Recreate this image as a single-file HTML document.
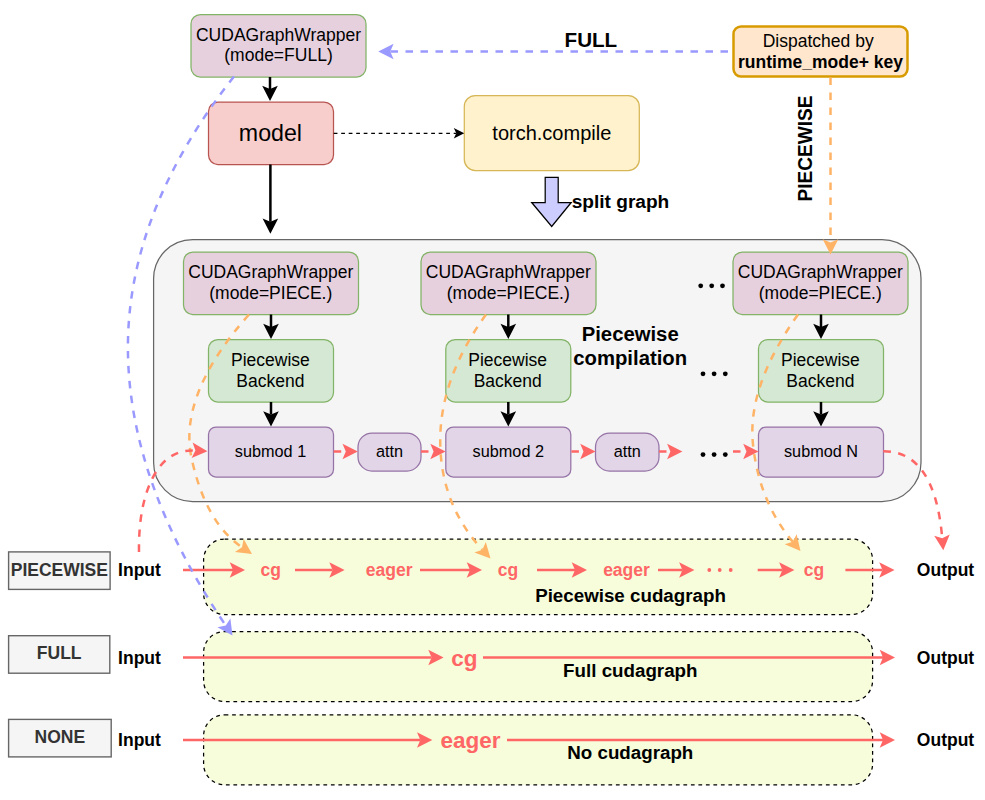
<!DOCTYPE html>
<html><head><meta charset="utf-8"><style>
html,body{margin:0;padding:0;background:#fff;}
svg{display:block;font-family:"Liberation Sans", sans-serif;}
</style></head><body>
<svg width="985" height="800" viewBox="0 0 985 800">
<rect width="985" height="800" fill="#fff"/>
<rect x="153.6" y="239.6" width="767.4" height="262" rx="39" ry="39" fill="#f5f5f5" stroke="#666666" stroke-width="1.25"/>
<rect x="191" y="14.5" width="175" height="62.5" rx="9.4" ry="9.4" fill="#e6d0de" stroke="#82b366" stroke-width="1.25"/>
<text x="278.5" y="40.8" font-size="17.5" font-weight="normal" fill="#000" text-anchor="middle">CUDAGraphWrapper</text>
<text x="278.5" y="61.4" font-size="17.5" font-weight="normal" fill="#000" text-anchor="middle">(mode=FULL)</text>
<rect x="208.5" y="102" width="125" height="62.5" rx="9.4" ry="9.4" fill="#f8cecc" stroke="#b85450" stroke-width="1.25"/>
<text x="270.4" y="141" font-size="23.2" font-weight="normal" fill="#000" text-anchor="middle">model</text>
<rect x="464.3" y="95.5" width="175" height="75" rx="11" ry="11" fill="#fff2cc" stroke="#d6b656" stroke-width="1.25"/>
<text x="551.8" y="140" font-size="20" font-weight="normal" fill="#000" text-anchor="middle">torch.compile</text>
<rect x="733.5" y="26.5" width="174" height="50" rx="7.5" ry="7.5" fill="#ffe6cc" stroke="#d79b00" stroke-width="2.5"/>
<text x="818.2" y="47" font-size="17.5" font-weight="normal" fill="#000" text-anchor="middle">Dispatched by</text>
<text x="820.5" y="68" font-size="17.5" font-weight="bold" fill="#000" text-anchor="middle">runtime_mode+ key</text>
<path d="M545.2,177.3 L558.2,177.3 L558.2,202.5 L571.2,202.5 L551.7,226.5 L531.7,202.5 L545.2,202.5 Z" fill="#ccccff" stroke="#000" stroke-width="1.25"/>
<text x="571.7" y="207.5" font-size="19.1" font-weight="bold" fill="#000" text-anchor="start">split graph</text>
<text x="590.9" y="47" font-size="20.6" font-weight="bold" fill="#000" text-anchor="middle">FULL</text>
<text x="0" y="0" font-size="19.1" font-weight="bold" text-anchor="middle" transform="translate(812.2,148.5) rotate(-90) scale(1,1.06)">PIECEWISE</text>
<rect x="183.5" y="252" width="175" height="62.5" rx="9.4" ry="9.4" fill="#e6d0de" stroke="#82b366" stroke-width="1.25"/>
<text x="270.8" y="277.6" font-size="17.5" font-weight="normal" fill="#000" text-anchor="middle">CUDAGraphWrapper</text>
<text x="270.8" y="298.5" font-size="17.5" font-weight="normal" fill="#000" text-anchor="middle">(mode=PIECE.)</text>
<rect x="208.5" y="339.5" width="125" height="62.5" rx="9.4" ry="9.4" fill="#d5e8d4" stroke="#82b366" stroke-width="1.25"/>
<text x="270.4" y="366" font-size="17.5" font-weight="normal" fill="#000" text-anchor="middle">Piecewise</text>
<text x="270.4" y="386.5" font-size="17.5" font-weight="normal" fill="#000" text-anchor="middle">Backend</text>
<rect x="208.5" y="427" width="125" height="50" rx="7.5" ry="7.5" fill="#e1d5e7" stroke="#9673a6" stroke-width="1.25"/>
<line x1="271.0" y1="314.5" x2="271.00" y2="327.00" stroke="#000" stroke-width="2.5"/>
<path d="M271.00,339.00 L263.20,323.70 L271.00,327.00 L278.80,323.70 Z" fill="#000"/>
<line x1="271.0" y1="402" x2="271.00" y2="414.50" stroke="#000" stroke-width="2.5"/>
<path d="M271.00,426.50 L263.20,411.20 L271.00,414.50 L278.80,411.20 Z" fill="#000"/>
<rect x="421" y="252" width="175" height="62.5" rx="9.4" ry="9.4" fill="#e6d0de" stroke="#82b366" stroke-width="1.25"/>
<text x="508.3" y="277.6" font-size="17.5" font-weight="normal" fill="#000" text-anchor="middle">CUDAGraphWrapper</text>
<text x="508.3" y="298.5" font-size="17.5" font-weight="normal" fill="#000" text-anchor="middle">(mode=PIECE.)</text>
<rect x="445.8" y="339.5" width="125" height="62.5" rx="9.4" ry="9.4" fill="#d5e8d4" stroke="#82b366" stroke-width="1.25"/>
<text x="507.7" y="366" font-size="17.5" font-weight="normal" fill="#000" text-anchor="middle">Piecewise</text>
<text x="507.7" y="386.5" font-size="17.5" font-weight="normal" fill="#000" text-anchor="middle">Backend</text>
<rect x="445.8" y="427" width="125" height="50" rx="7.5" ry="7.5" fill="#e1d5e7" stroke="#9673a6" stroke-width="1.25"/>
<line x1="508.3" y1="314.5" x2="508.30" y2="327.00" stroke="#000" stroke-width="2.5"/>
<path d="M508.30,339.00 L500.50,323.70 L508.30,327.00 L516.10,323.70 Z" fill="#000"/>
<line x1="508.3" y1="402" x2="508.30" y2="414.50" stroke="#000" stroke-width="2.5"/>
<path d="M508.30,426.50 L500.50,411.20 L508.30,414.50 L516.10,411.20 Z" fill="#000"/>
<rect x="733" y="252" width="175" height="62.5" rx="9.4" ry="9.4" fill="#e6d0de" stroke="#82b366" stroke-width="1.25"/>
<text x="820.3" y="277.6" font-size="17.5" font-weight="normal" fill="#000" text-anchor="middle">CUDAGraphWrapper</text>
<text x="820.3" y="298.5" font-size="17.5" font-weight="normal" fill="#000" text-anchor="middle">(mode=PIECE.)</text>
<rect x="758.5" y="339.5" width="125" height="62.5" rx="9.4" ry="9.4" fill="#d5e8d4" stroke="#82b366" stroke-width="1.25"/>
<text x="820.4" y="366" font-size="17.5" font-weight="normal" fill="#000" text-anchor="middle">Piecewise</text>
<text x="820.4" y="386.5" font-size="17.5" font-weight="normal" fill="#000" text-anchor="middle">Backend</text>
<rect x="758.5" y="427" width="125" height="50" rx="7.5" ry="7.5" fill="#e1d5e7" stroke="#9673a6" stroke-width="1.25"/>
<line x1="821.0" y1="314.5" x2="821.00" y2="327.00" stroke="#000" stroke-width="2.5"/>
<path d="M821.00,339.00 L813.20,323.70 L821.00,327.00 L828.80,323.70 Z" fill="#000"/>
<line x1="821.0" y1="402" x2="821.00" y2="414.50" stroke="#000" stroke-width="2.5"/>
<path d="M821.00,426.50 L813.20,411.20 L821.00,414.50 L828.80,411.20 Z" fill="#000"/>
<text x="270.5" y="457" font-size="16.25" font-weight="normal" fill="#000" text-anchor="middle">submod 1</text>
<text x="508.3" y="457" font-size="16.25" font-weight="normal" fill="#000" text-anchor="middle">submod 2</text>
<text x="821" y="457" font-size="16.25" font-weight="normal" fill="#000" text-anchor="middle">submod N</text>
<rect x="358" y="433" width="63" height="38" rx="14" ry="14" fill="#e1d5e7" stroke="#9673a6" stroke-width="1.25"/>
<text x="389.5" y="457" font-size="16.25" font-weight="normal" fill="#000" text-anchor="middle">attn</text>
<rect x="595.5" y="433" width="63.5" height="38" rx="14" ry="14" fill="#e1d5e7" stroke="#9673a6" stroke-width="1.25"/>
<text x="627.2" y="457" font-size="16.25" font-weight="normal" fill="#000" text-anchor="middle">attn</text>
<text x="630.2" y="341" font-size="20.3" font-weight="bold" fill="#000" text-anchor="middle">Piecewise</text>
<text x="630.2" y="365" font-size="20.3" font-weight="bold" fill="#000" text-anchor="middle">compilation</text>
<circle cx="700.7" cy="285.8" r="2.4" fill="#000"/>
<circle cx="711.7" cy="285.8" r="2.4" fill="#000"/>
<circle cx="722.5" cy="285.8" r="2.4" fill="#000"/>
<circle cx="703" cy="373.8" r="2.4" fill="#000"/>
<circle cx="714.1" cy="373.8" r="2.4" fill="#000"/>
<circle cx="725.3" cy="373.8" r="2.4" fill="#000"/>
<circle cx="703" cy="454.6" r="2.4" fill="#000"/>
<circle cx="714.1" cy="454.6" r="2.4" fill="#000"/>
<circle cx="725.3" cy="454.6" r="2.4" fill="#000"/>
<line x1="333.7" y1="451.5" x2="345.80" y2="451.50" stroke="#ff6666" stroke-width="2.5" stroke-dasharray="7.5 7.5" stroke-dashoffset="0"/>
<path d="M357.80,451.50 L342.50,459.30 L345.80,451.50 L342.50,443.70 Z" fill="#ff6666"/>
<line x1="421" y1="451.5" x2="433.60" y2="451.50" stroke="#ff6666" stroke-width="2.5" stroke-dasharray="7.5 7.5" stroke-dashoffset="0"/>
<path d="M445.60,451.50 L430.30,459.30 L433.60,451.50 L430.30,443.70 Z" fill="#ff6666"/>
<line x1="571.4" y1="451.5" x2="583.50" y2="451.50" stroke="#ff6666" stroke-width="2.5" stroke-dasharray="7.5 7.5" stroke-dashoffset="0"/>
<path d="M595.50,451.50 L580.20,459.30 L583.50,451.50 L580.20,443.70 Z" fill="#ff6666"/>
<line x1="659" y1="451.5" x2="670.40" y2="451.50" stroke="#ff6666" stroke-width="2.5" stroke-dasharray="7.5 7.5" stroke-dashoffset="0"/>
<path d="M682.40,451.50 L667.10,459.30 L670.40,451.50 L667.10,443.70 Z" fill="#ff6666"/>
<line x1="733" y1="451.5" x2="746.50" y2="451.50" stroke="#ff6666" stroke-width="2.5" stroke-dasharray="7.5 7.5" stroke-dashoffset="0"/>
<path d="M758.50,451.50 L743.20,459.30 L746.50,451.50 L743.20,443.70 Z" fill="#ff6666"/>
<line x1="270" y1="77" x2="270.00" y2="89.00" stroke="#000" stroke-width="2.5"/>
<path d="M270.00,101.00 L262.20,85.70 L270.00,89.00 L277.80,85.70 Z" fill="#000"/>
<line x1="270.4" y1="164.5" x2="270.40" y2="221.80" stroke="#000" stroke-width="2.5"/>
<path d="M270.40,233.80 L262.60,218.50 L270.40,221.80 L278.20,218.50 Z" fill="#000"/>
<line x1="333.7" y1="133.3" x2="456.30" y2="133.30" stroke="#000" stroke-width="1.25" stroke-dasharray="3.75 3.75" stroke-dashoffset="0"/>
<path d="M464.30,133.30 L453.80,138.60 L456.30,133.30 L453.80,128.00 Z" fill="#000"/>
<rect x="203.6" y="539" width="669" height="75.5" rx="21" ry="21" fill="#f7fddb" stroke="#000" stroke-width="1.25" stroke-dasharray="3.75 3.75"/>
<rect x="203.6" y="631.5" width="669" height="70" rx="21" ry="21" fill="#f7fddb" stroke="#000" stroke-width="1.25" stroke-dasharray="3.75 3.75"/>
<rect x="203.6" y="714.8" width="669" height="70" rx="21" ry="21" fill="#f7fddb" stroke="#000" stroke-width="1.25" stroke-dasharray="3.75 3.75"/>
<rect x="8.6" y="551.9" width="101.5" height="37.5" rx="0" ry="0" fill="#f5f5f5" stroke="#666666" stroke-width="1.4"/>
<text x="59.35" y="575.5" font-size="17.5" font-weight="bold" fill="#333333" text-anchor="middle">PIECEWISE</text>
<rect x="8.6" y="635.7" width="101.2" height="37.5" rx="0" ry="0" fill="#f5f5f5" stroke="#666666" stroke-width="1.4"/>
<text x="59.2" y="659.3000000000001" font-size="17.5" font-weight="bold" fill="#333333" text-anchor="middle">FULL</text>
<rect x="8.6" y="719.4" width="102.6" height="37.5" rx="0" ry="0" fill="#f5f5f5" stroke="#666666" stroke-width="1.4"/>
<text x="59.9" y="743.0" font-size="17.5" font-weight="bold" fill="#333333" text-anchor="middle">NONE</text>
<text x="139.5" y="575.6" font-size="17.5" font-weight="bold" fill="#000" text-anchor="middle">Input</text>
<text x="945.5" y="575.8" font-size="17.5" font-weight="bold" fill="#000" text-anchor="middle">Output</text>
<text x="139.5" y="664.1" font-size="17.5" font-weight="bold" fill="#000" text-anchor="middle">Input</text>
<text x="945.5" y="664.3" font-size="17.5" font-weight="bold" fill="#000" text-anchor="middle">Output</text>
<text x="139.5" y="745.6" font-size="17.5" font-weight="bold" fill="#000" text-anchor="middle">Input</text>
<text x="945.5" y="745.8" font-size="17.5" font-weight="bold" fill="#000" text-anchor="middle">Output</text>
<line x1="183" y1="570" x2="233.00" y2="570.00" stroke="#ff6666" stroke-width="2.5"/>
<path d="M245.00,570.00 L229.70,577.80 L233.00,570.00 L229.70,562.20 Z" fill="#ff6666"/>
<line x1="295" y1="570" x2="332.60" y2="570.00" stroke="#ff6666" stroke-width="2.5"/>
<path d="M344.60,570.00 L329.30,577.80 L332.60,570.00 L329.30,562.20 Z" fill="#ff6666"/>
<line x1="420" y1="570" x2="470.00" y2="570.00" stroke="#ff6666" stroke-width="2.5"/>
<path d="M482.00,570.00 L466.70,577.80 L470.00,570.00 L466.70,562.20 Z" fill="#ff6666"/>
<line x1="537" y1="570" x2="575.00" y2="570.00" stroke="#ff6666" stroke-width="2.5"/>
<path d="M587.00,570.00 L571.70,577.80 L575.00,570.00 L571.70,562.20 Z" fill="#ff6666"/>
<line x1="658" y1="570" x2="682.40" y2="570.00" stroke="#ff6666" stroke-width="2.5"/>
<path d="M694.40,570.00 L679.10,577.80 L682.40,570.00 L679.10,562.20 Z" fill="#ff6666"/>
<line x1="757.7" y1="570" x2="782.40" y2="570.00" stroke="#ff6666" stroke-width="2.5"/>
<path d="M794.40,570.00 L779.10,577.80 L782.40,570.00 L779.10,562.20 Z" fill="#ff6666"/>
<line x1="845.4" y1="570" x2="882.50" y2="570.00" stroke="#ff6666" stroke-width="2.5"/>
<path d="M894.50,570.00 L879.20,577.80 L882.50,570.00 L879.20,562.20 Z" fill="#ff6666"/>
<text x="270.7" y="576" font-size="17.5" font-weight="bold" fill="#ff6666" text-anchor="middle">cg</text>
<text x="389.2" y="576" font-size="17.5" font-weight="bold" fill="#ff6666" text-anchor="middle">eager</text>
<text x="507.9" y="576" font-size="17.5" font-weight="bold" fill="#ff6666" text-anchor="middle">cg</text>
<text x="626.5" y="576" font-size="17.5" font-weight="bold" fill="#ff6666" text-anchor="middle">eager</text>
<text x="814" y="576" font-size="17.5" font-weight="bold" fill="#ff6666" text-anchor="middle">cg</text>
<circle cx="709.3" cy="570" r="1.9" fill="#ff6666"/>
<circle cx="719.7" cy="570" r="1.9" fill="#ff6666"/>
<circle cx="730.7" cy="570" r="1.9" fill="#ff6666"/>
<text x="630.5" y="602" font-size="18.75" font-weight="bold" fill="#000" text-anchor="middle">Piecewise cudagraph</text>
<line x1="183" y1="657.5" x2="431.60" y2="657.50" stroke="#ff6666" stroke-width="2.5"/>
<path d="M443.60,657.50 L428.30,665.30 L431.60,657.50 L428.30,649.70 Z" fill="#ff6666"/>
<line x1="483" y1="657.5" x2="883.00" y2="657.50" stroke="#ff6666" stroke-width="2.5"/>
<path d="M895.00,657.50 L879.70,665.30 L883.00,657.50 L879.70,649.70 Z" fill="#ff6666"/>
<text x="464.5" y="665.5" font-size="22.5" font-weight="bold" fill="#ff6666" text-anchor="middle">cg</text>
<text x="630.3" y="676.6" font-size="18.75" font-weight="bold" fill="#000" text-anchor="middle">Full cudagraph</text>
<line x1="183" y1="740" x2="420.30" y2="740.00" stroke="#ff6666" stroke-width="2.5"/>
<path d="M432.30,740.00 L417.00,747.80 L420.30,740.00 L417.00,732.20 Z" fill="#ff6666"/>
<line x1="507" y1="740" x2="883.00" y2="740.00" stroke="#ff6666" stroke-width="2.5"/>
<path d="M895.00,740.00 L879.70,747.80 L883.00,740.00 L879.70,732.20 Z" fill="#ff6666"/>
<text x="470.4" y="748" font-size="22.5" font-weight="bold" fill="#ff6666" text-anchor="middle">eager</text>
<text x="630.3" y="759" font-size="18.75" font-weight="bold" fill="#000" text-anchor="middle">No cudagraph</text>
<line x1="733" y1="51.5" x2="390.30" y2="51.50" stroke="#9999ff" stroke-width="2.5" stroke-dasharray="7.5 7.5" stroke-dashoffset="10"/>
<path d="M378.30,51.50 L393.60,43.70 L390.30,51.50 L393.60,59.30 Z" fill="#9999ff"/>
<line x1="830.5" y1="77.5" x2="830.50" y2="242.50" stroke="#ffb366" stroke-width="2.5" stroke-dasharray="7.5 7.5" stroke-dashoffset="0"/>
<path d="M830.50,254.50 L822.70,239.20 L830.50,242.50 L838.30,239.20 Z" fill="#ffb366"/>
<path d="M234.00,76.50 Q128.77,209.91 127.93,344.92 Q127.09,479.93 225.77,625.57" fill="none" stroke="#9999ff" stroke-width="2.5" stroke-dasharray="7.5 7.5"/>
<path d="M232.50,635.50 L217.46,627.21 L225.77,625.57 L230.37,618.46 Z" fill="#9999ff"/>
<path d="M249.00,314.50 Q177.47,395.11 191.73,459.13 Q205.99,523.15 242.03,547.32" fill="none" stroke="#ffb366" stroke-width="2.5" stroke-dasharray="7.5 7.5"/>
<path d="M252.00,554.00 L234.95,551.96 L242.03,547.32 L243.64,539.00 Z" fill="#ffb366"/>
<path d="M486.00,314.50 Q439.93,378.26 440.22,441.38 Q440.51,504.51 482.35,549.69" fill="none" stroke="#ffb366" stroke-width="2.5" stroke-dasharray="7.5 7.5"/>
<path d="M490.50,558.50 L474.38,552.57 L482.35,549.69 L485.83,541.97 Z" fill="#ffb366"/>
<path d="M798.00,314.50 Q746.97,386.51 752.96,444.03 Q758.96,501.56 792.78,541.81" fill="none" stroke="#ffb366" stroke-width="2.5" stroke-dasharray="7.5 7.5"/>
<path d="M800.50,551.00 L784.69,544.30 L792.78,541.81 L796.63,534.27 Z" fill="#ffb366"/>
<path d="M139.00,552.00 Q138.36,505.02 153.17,476.91 Q167.98,448.81 195.42,450.54" fill="none" stroke="#ff6666" stroke-width="2.5" stroke-dasharray="7.5 7.5"/>
<path d="M207.40,451.30 L191.64,458.12 L195.42,450.54 L192.62,442.55 Z" fill="#ff6666"/>
<path d="M883.30,451.30 Q934.60,450.77 942.25,538.35" fill="none" stroke="#ff6666" stroke-width="2.5" stroke-dasharray="7.5 7.5"/>
<path d="M943.30,550.30 L934.20,535.74 L942.25,538.35 L949.74,534.38 Z" fill="#ff6666"/>
</svg>
</body></html>
